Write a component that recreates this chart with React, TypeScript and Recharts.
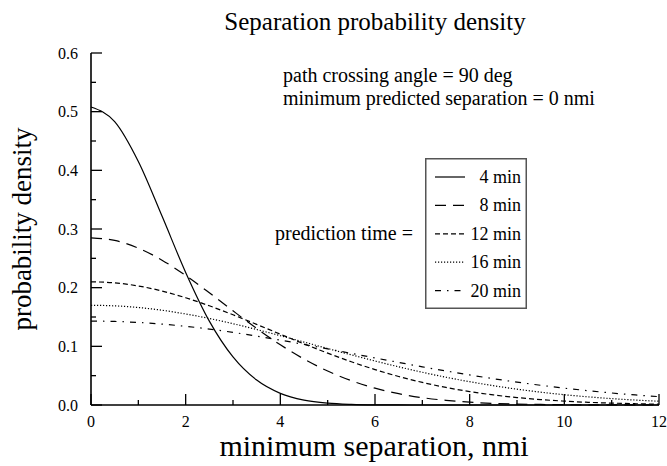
import React from 'react';
import { LineChart, Line, XAxis, YAxis, Legend } from 'recharts';

// ---- data ----
const separation = [0, 0.5, 1, 1.5, 2, 2.5, 3, 3.5, 4, 4.5, 5, 5.5, 6, 6.5, 7, 7.5, 8, 8.5, 9, 9.5, 10, 10.5, 11, 11.5, 12];
const min4 = [0.508, 0.483, 0.415, 0.322, 0.226, 0.143, 0.082, 0.0425, 0.0199, 0.0084, 0.0032, 0.0011, 0.0003, 0.0001, 0, 0, 0, 0, 0, 0, 0, 0, 0, 0, 0];
const min8 = [0.285, 0.2805, 0.2674, 0.2469, 0.2208, 0.1913, 0.1605, 0.1305, 0.1027, 0.0783, 0.0579, 0.0414, 0.0287, 0.0193, 0.0125, 0.0079, 0.0048, 0.0028, 0.0016, 0.0009, 0.0005, 0.0003, 0.0001, 0.0001, 0];
const min12 = [0.21, 0.2082, 0.2029, 0.1943, 0.1828, 0.1691, 0.1538, 0.1374, 0.1207, 0.1042, 0.0884, 0.0737, 0.0604, 0.0486, 0.0385, 0.0299, 0.0229, 0.0172, 0.0127, 0.0092, 0.0066, 0.0046, 0.0032, 0.0022, 0.0014];
const min16 = [0.17, 0.169, 0.1662, 0.1615, 0.1552, 0.1475, 0.1386, 0.1287, 0.1182, 0.1073, 0.0963, 0.0855, 0.075, 0.0651, 0.0558, 0.0473, 0.0397, 0.0329, 0.027, 0.0219, 0.0175, 0.0139, 0.0109, 0.0084, 0.0064];
const min20 = [0.143, 0.1424, 0.1407, 0.1379, 0.1341, 0.1294, 0.1238, 0.1175, 0.1106, 0.1033, 0.0957, 0.088, 0.0802, 0.0726, 0.0651, 0.058, 0.0512, 0.0448, 0.039, 0.0336, 0.0287, 0.0244, 0.0205, 0.0171, 0.0142];

const seriesKeys = ['m4', 'm8', 'm12', 'm16', 'm20'];
const seriesNames = ['4 min', '8 min', '12 min', '16 min', '20 min'];

const xTicks = [0, 1, 2, 3, 4, 5, 6, 7, 8, 9, 10, 11, 12];
const yTicks = [0, 0.05, 0.1, 0.15, 0.2, 0.25, 0.3, 0.35, 0.4, 0.45, 0.5, 0.55, 0.6];

const titleText = 'Separation probability density';
const xTitle = 'minimum separation, nmi';
const yTitle = 'probability density';
const note1 = 'path crossing angle = 90 deg';
const note2 = 'minimum predicted separation = 0 nmi';
const legendLead = 'prediction time =';

// ---- styles ----
const dashStyles = ['', '11 7', '5 3', '1.2 1.8', '6 6 1.5 6'];
const FONT = "'Liberation Serif', 'Times New Roman', Times, 'DejaVu Serif', serif";

const data = separation.map((x, i) => ({
  x,
  m4: min4[i],
  m8: min8[i],
  m12: min12[i],
  m16: min16[i],
  m20: min20[i],
}));

const MAJOR = 11;
const MINOR = 5;

const isMajorX = (v: number) => Math.round(v) % 2 === 0;
const isMajorY = (v: number) => Math.round(v * 20) % 2 === 0;

const txt = (size: number): React.CSSProperties => ({ fontFamily: FONT, fontSize: size, fill: '#000' });

const BottomTick = (props: any) => {
  const { x, y, payload } = props;
  const major = isMajorX(payload.value);
  return (
    <g>
      <line x1={x} x2={x} y1={y} y2={y - (major ? MAJOR : MINOR)} stroke="#000" strokeWidth={1.3} />
      {major && (
        <text x={x} y={y + 16} textAnchor="middle" dominantBaseline="central" style={txt(16)}>
          {payload.value}
        </text>
      )}
    </g>
  );
};

const TopTick = (props: any) => {
  const { x, y, payload } = props;
  const major = isMajorX(payload.value);
  return <line x1={x} x2={x} y1={y} y2={y + (major ? MAJOR : MINOR)} stroke="#000" strokeWidth={1.3} />;
};

const LeftTick = (props: any) => {
  const { x, y, payload } = props;
  const major = isMajorY(payload.value);
  return (
    <g>
      <line x1={x} x2={x + (major ? MAJOR : MINOR)} y1={y} y2={y} stroke="#000" strokeWidth={1.3} />
      {major && (
        <text x={x - 13} y={y} textAnchor="end" dominantBaseline="central" style={txt(16)}>
          {Number(payload.value).toFixed(1)}
        </text>
      )}
    </g>
  );
};

const RightTick = (props: any) => {
  const { x, y, payload } = props;
  const major = isMajorY(payload.value);
  return <line x1={x} x2={x - (major ? MAJOR : MINOR)} y1={y} y2={y} stroke="#000" strokeWidth={1.3} />;
};

const LegendBox = () => {
  const w = 102;
  const h = 151;
  const rowTop = 19;
  const rowStep = 28.4;
  return (
    <svg width={w} height={h} style={{ display: 'block' }}>
      <rect x={0.75} y={0.75} width={w - 1.5} height={h - 1.5} fill="#fff" stroke="#555" strokeWidth={1.5} />
      {seriesNames.map((name, i) => {
        const cy = rowTop + i * rowStep;
        return (
          <g key={name}>
            <line x1={10} x2={40} y1={cy} y2={cy} stroke="#000" strokeWidth={1.2} strokeDasharray={dashStyles[i] || undefined} />
            <text x={96} y={cy} textAnchor="end" dominantBaseline="central" style={txt(18)}>
              {name}
            </text>
          </g>
        );
      })}
    </svg>
  );
};

export default function App() {
  return (
    <div style={{ position: 'absolute', left: 0, top: 0, width: 667, height: 466, background: '#fff', fontFamily: FONT }}>
      <LineChart width={667} height={466} data={data} margin={{ top: 53, right: 8, bottom: 0, left: 0 }}>
        <XAxis
          xAxisId="bottom"
          dataKey="x"
          type="number"
          domain={[0, 12]}
          ticks={xTicks}
          interval={0}
          height={61}
          tickSize={0}
          tickMargin={0}
          tickLine={false}
          tick={<BottomTick />}
          axisLine={{ stroke: '#000', strokeWidth: 1.6 }}
        />
        <XAxis
          xAxisId="top"
          orientation="top"
          dataKey="x"
          type="number"
          domain={[0, 12]}
          ticks={xTicks}
          interval={0}
          height={0}
          tickSize={0}
          tickMargin={0}
          tickLine={false}
          tick={<TopTick />}
          axisLine={{ stroke: '#000', strokeWidth: 1.6 }}
        />
        <YAxis
          yAxisId="left"
          type="number"
          domain={[0, 0.6]}
          ticks={yTicks}
          interval={0}
          width={91}
          tickSize={0}
          tickMargin={0}
          tickLine={false}
          tick={<LeftTick />}
          axisLine={{ stroke: '#000', strokeWidth: 1.6 }}
        />
        <YAxis
          yAxisId="right"
          orientation="right"
          type="number"
          domain={[0, 0.6]}
          ticks={yTicks}
          interval={0}
          width={0}
          tickSize={0}
          tickMargin={0}
          tickLine={false}
          tick={<RightTick />}
          axisLine={{ stroke: '#000', strokeWidth: 1.6 }}
        />
        {seriesKeys.map((k, i) => (
          <Line
            key={k}
            xAxisId="bottom"
            yAxisId="left"
            type="monotone"
            dataKey={k}
            name={seriesNames[i]}
            stroke="#000"
            strokeWidth={1.2}
            strokeDasharray={dashStyles[i] || undefined}
            dot={false}
            activeDot={false}
            isAnimationActive={false}
          />
        ))}
        <Legend
          layout="horizontal"
          verticalAlign="middle"
          align="center"
          content={<LegendBox />}
          wrapperStyle={{ position: 'absolute', left: 425, top: 158, width: 102, height: 151 }}
        />
      </LineChart>
      <svg width={667} height={466} style={{ position: 'absolute', left: 0, top: 0, pointerEvents: 'none' }}>
        <text x={375} y={21} textAnchor="middle" dominantBaseline="central" style={txt(25)}>
          {titleText}
        </text>
        <text x={374} y={445} textAnchor="middle" dominantBaseline="central" style={txt(30)}>
          {xTitle}
        </text>
        <text x={22} y={229} textAnchor="middle" dominantBaseline="central" style={txt(27)} transform="rotate(-90 22 229)">
          {yTitle}
        </text>
        <text x={283} y={75} dominantBaseline="central" style={txt(20)}>
          {note1}
        </text>
        <text x={283} y={98} dominantBaseline="central" style={txt(20)}>
          {note2}
        </text>
        <text x={275} y={233} dominantBaseline="central" style={txt(20)}>
          {legendLead}
        </text>
      </svg>
    </div>
  );
}
